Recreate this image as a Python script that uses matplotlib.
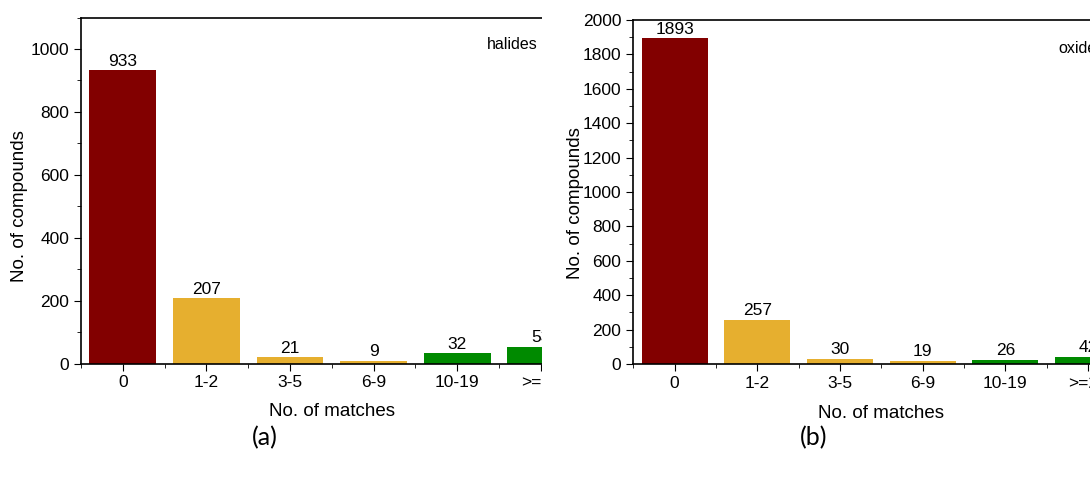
import matplotlib
matplotlib.use("Agg")
import matplotlib.pyplot as plt
import numpy as np
from matplotlib.patches import Rectangle
from matplotlib.ticker import MultipleLocator

# match-count bins and compound counts per chemistry class
categories = ["0", "1-2", "3-5", "6-9", "10-19", ">=20"]
halides = [933, 207, 21, 9, 32, 53]
oxides = [1893, 257, 30, 19, 26, 42]

DARK_RED = "#820000"
GOLD = "#E6AF2F"
GREEN = "#008A00"
bar_colors = [DARK_RED, GOLD, GOLD, GOLD, GREEN, GREEN]

plt.rcParams.update(
    {
        "font.family": ["Liberation Sans", "DejaVu Sans"],
        "axes.linewidth": 1.2,
        "xtick.direction": "out",
        "ytick.direction": "out",
        "xtick.major.size": 5,
        "ytick.major.size": 5,
        "xtick.minor.size": 3,
        "ytick.minor.size": 3,
        "xtick.labelsize": 12.5,
        "ytick.labelsize": 12.5,
    }
)


def draw_panel(ax, values, ymax, ymajor, tag, tag_xy, xlab_y, ylab_xy):
    x = np.arange(len(categories))
    bars = ax.bar(x, values, width=0.8, color=bar_colors, edgecolor="none", zorder=2)
    ax.bar_label(bars, labels=[str(v) for v in values], padding=1, fontsize=12.5)
    ax.set_xlim(-0.5, len(categories) - 0.5)
    ax.set_ylim(0, ymax)
    ax.set_xticks(x)
    ax.set_xticklabels(categories)
    ax.xaxis.set_minor_locator(MultipleLocator(1, offset=0.5))
    ax.yaxis.set_major_locator(MultipleLocator(ymajor))
    ax.yaxis.set_minor_locator(MultipleLocator(ymajor / 2))
    ax.set_xlabel("No. of matches", fontsize=13.5)
    ax.set_ylabel("No. of compounds", fontsize=13.5)
    ax.xaxis.set_label_coords(0.5, xlab_y)
    ax.yaxis.set_label_coords(*ylab_xy)
    ax.text(*tag_xy, tag, fontsize=11.5, ha="left", va="center")


fig = plt.figure(figsize=(10.9, 4.8), dpi=100)

ax_a = fig.add_axes([0.0743, 0.2427, 0.4602, 0.7208])
ax_b = fig.add_axes([0.581, 0.2417, 0.455, 0.7167])
ax_a.set_zorder(0)
ax_b.set_zorder(2)

draw_panel(ax_a, halides, 1100, 200, "halides", (4.35, 1013), -0.113, (-0.105, 0.454))
draw_panel(ax_b, oxides, 2000, 200, "oxides", (4.64, 1837), -0.118, (-0.1, 0.468))

# panel (a) is shown trimmed at its last category
fig.add_artist(
    Rectangle((0.4968, 0.0), 0.084, 1.0, transform=fig.transFigure,
              facecolor="white", edgecolor="none", zorder=1)
)

fig.text(0.243, 0.088, "(a)", fontsize=18, family=["Lato", "DejaVu Sans"],
         ha="center", va="center", zorder=3)
fig.text(0.746, 0.088, "(b)", fontsize=18, family=["Lato", "DejaVu Sans"],
         ha="center", va="center", zorder=3)

fig.savefig("out.png", dpi=100, facecolor="white")
